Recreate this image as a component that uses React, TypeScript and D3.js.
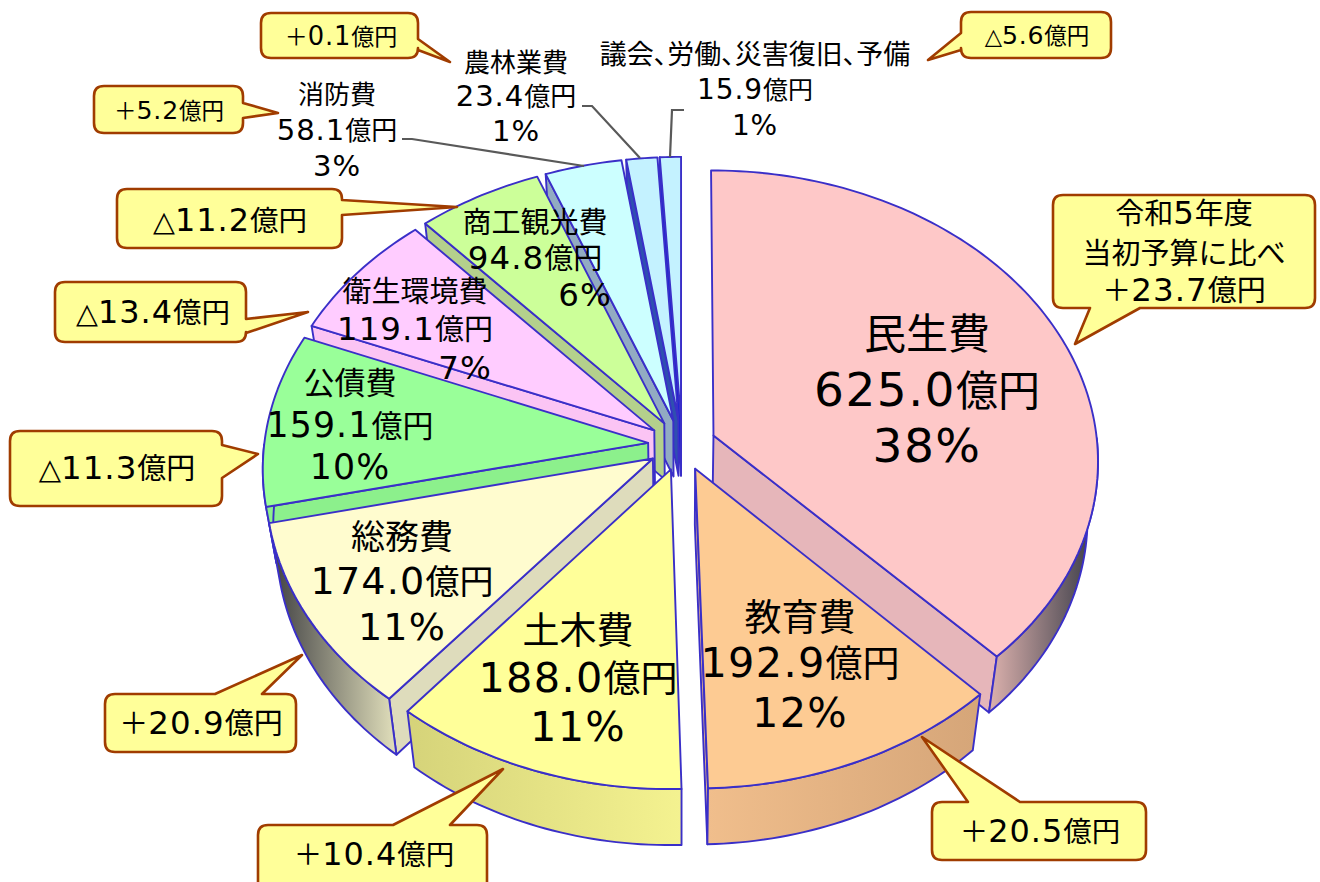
import React from "react";
import * as d3 from "d3";

const categories = ["民生費","教育費","土木費","総務費","公債費","衛生環境費","商工観光費","消防費","農林業費","議会、労働、災害復旧、予備"];
const values = [625.0,192.9,188.0,174.0,159.1,119.1,94.8,58.1,23.4,15.9];
const percents = ["38%","12%","11%","11%","10%","7%","6%","3%","1%","1%"];
const topColors = ["#FEC8C8","#FDCB93","#FFFF99","#FFFCCF","#99FF99","#FFCCFF","#CCFF99","#CCFFFF","#C4F2FF","#C4F2FF"];
const cutColors = ["#E6B6BA","#E8B98A","#E8E68C","#DEDCBC","#8CF08C","#FBC4F4","#B4D08C","#92ABC2","#2F4FB0","#1020D8"];
const wallLight = ["#DDB2AE","#F0BE8C","#F4F290","#E2E0BC","#8CF08C","#FBC4F4","#B4D08C","#92ABC2","#2F4FB0","#1020D8"];
const wallDark = ["#45444E","#D6A679","#D6D47A","#4A4A4A","#8CF08C","#FBC4F4","#B4D08C","#92ABC2","#2F4FB0","#1020D8"];
const changeTexts = [["令和5年度","当初予算に比べ","＋23.7億円"],["＋20.5億円"],["＋10.4億円"],["＋20.9億円"],["△11.3億円"],["△13.4億円"],["△11.2億円"],["＋5.2億円"],["＋0.1億円"],["△5.6億円"]];

// layout (not data)
const FONT = '"DejaVu Sans","Noto Sans CJK JP",sans-serif';
const CX = 682, CY = 445, R = 384, K = 0.752, D = 4600, EXPLODE = 34, WALL = 56, SHRINK = 0.975;
const labelLayout = [
  { x: 927, ys: [333, 390, 446], size: 42, first: 42, xs: [0, 0, 0] },
  { x: 800, ys: [617, 663, 713], size: 37, first: 37, xs: [0, 0, 0] },
  { x: 578, ys: [630, 678, 727], size: 37, first: 37, xs: [0, 0, 0] },
  { x: 402, ys: [536, 581, 627], size: 34, first: 34, xs: [0, 0, 0] },
  { x: 350, ys: [382, 425, 467], size: 31, first: 31, xs: [0, 0, 0] },
  { x: 415, ys: [291, 329, 368], size: 29, first: 29, xs: [0, 0, 50] },
  { x: 535, ys: [222, 258, 295], size: 29, first: 29, xs: [0, 0, 50] },
  { x: 337, ys: [94, 130, 166], size: 26, first: 26, xs: [0, 0, 0] },
  { x: 516, ys: [62, 96, 131], size: 26, first: 26, xs: [0, 0, 0] },
  { x: 755, ys: [54, 89, 125], size: 25, first: 27, xs: [0, 0, 0] },
];
type Call = { r: number[]; side: string; b: number[]; tip: number[]; tx: number; tys: number[]; size: number };
const calloutLayout: Call[] = [
  { r: [1053,195,1315,308], side: "b", b: [1090,1140], tip: [1075,344], tx: 1184, tys: [213,253,290], size: 29 },
  { r: [932,802,1146,860], side: "t", b: [968,1020], tip: [922,737], tx: 1040, tys: [831], size: 28.5 },
  { r: [258,825,487,900], side: "t", b: [393,450], tip: [503,769], tx: 374, tys: [854], size: 28.5 },
  { r: [105,694,296,752], side: "t", b: [215,262], tip: [302,655], tx: 201, tys: [723], size: 29 },
  { r: [10,431,222,506], side: "r", b: [445,478], tip: [258,454], tx: 117, tys: [468], size: 29 },
  { r: [55,282,246,342], side: "r", b: [319,333], tip: [308,312], tx: 153, tys: [312], size: 28.5 },
  { r: [117,189,342,248], side: "r", b: [200,215], tip: [457,207], tx: 230, tys: [220], size: 28.5 },
  { r: [94,86,243,133], side: "r", b: [103,118], tip: [278,113], tx: 169, tys: [110], size: 22.5 },
  { r: [261,13,418,58], side: "r", b: [39,50], tip: [450,62], tx: 341, tys: [36], size: 23 },
  { r: [961,12,1111,58], side: "l", b: [33,50], tip: [928,60], tx: 1037, tys: [35], size: 22.5 },
];
const leaders = [
  [[402,139],[412,139],[584,166]],
  [[582,106],[592,106],[640,158]],
  [[684,110],[672,110],[670,157]],
];

function project(X: number, Y: number): [number, number] {
  const f = 1 / (1 - Y / D);
  return [CX + X * f, CY + Y * K * f];
}
const lower = (p: [number, number]): [number, number] => [CX + (p[0] - CX) * SHRINK, p[1] + WALL];
const line = d3.line<[number, number]>().x(d => d[0]).y(d => d[1]);

const arcs = d3.pie<number>().sort(null).value(d => d)(values);

const slices = arcs.map((a, i) => {
  const mid = (a.startAngle + a.endAngle) / 2;
  const ox = EXPLODE * Math.sin(mid), oy = -EXPLODE * Math.cos(mid);
  const at = (t: number) => project(ox + R * Math.sin(t), oy - R * Math.cos(t));
  const steps = Math.max(4, Math.ceil((a.endAngle - a.startAngle) / 0.02));
  const ang = d3.scaleLinear().domain([0, steps]).range([a.startAngle, a.endAngle]);
  const rim = d3.range(steps + 1).map(s => at(ang(s)));
  const apex = project(ox, oy);
  const frontRim = rim.filter((_, s) => Math.cos(ang(s)) < 0);
  const front = frontRim.map(lower);
  const fx = front.length ? (d3.extent(front, p => p[0]) as [number, number]) : [0, 1];
  return {
    i, mid, apex, rim, frontRim, fx,
    showStart: Math.sin(a.startAngle) < 0,
    showEnd: Math.sin(a.endAngle) > 0,
    depth: project(ox + R * 0.6 * Math.sin(mid), oy - R * 0.6 * Math.cos(mid))[1],
  };
});
const order = [...slices].sort((p, q) => p.depth - q.depth);

function Runs({ s, size }: { s: string; size: number }) {
  const parts = s.match(/[0-9.%]+|[^0-9.%]+/g) || [];
  return (
    <>
      {parts.map((t, k) => {
        const num = /^[0-9.%]/.test(t);
        return (
          <tspan key={k} fontSize={num ? size * 1.12 : size} letterSpacing={num ? size * 0.035 : 0}>
            {t}
          </tspan>
        );
      })}
    </>
  );
}

function calloutPath(c: Call) {
  const [x0, y0, x1, y1] = c.r, q = 10;
  const p = d3.path();
  p.moveTo(x0 + q, y0);
  if (c.side === "t") { p.lineTo(c.b[0], y0); p.lineTo(c.tip[0], c.tip[1]); p.lineTo(c.b[1], y0); }
  p.lineTo(x1 - q, y0);
  p.quadraticCurveTo(x1, y0, x1, y0 + q);
  if (c.side === "r") { p.lineTo(x1, c.b[0]); p.lineTo(c.tip[0], c.tip[1]); p.lineTo(x1, c.b[1]); }
  p.lineTo(x1, y1 - q);
  p.quadraticCurveTo(x1, y1, x1 - q, y1);
  if (c.side === "b") { p.lineTo(c.b[1], y1); p.lineTo(c.tip[0], c.tip[1]); p.lineTo(c.b[0], y1); }
  p.lineTo(x0 + q, y1);
  p.quadraticCurveTo(x0, y1, x0, y1 - q);
  if (c.side === "l") { p.lineTo(x0, c.b[1]); p.lineTo(c.tip[0], c.tip[1]); p.lineTo(x0, c.b[0]); }
  p.lineTo(x0, y0 + q);
  p.quadraticCurveTo(x0, y0, x0 + q, y0);
  p.closePath();
  return p.toString();
}

const EDGE = "#3A2FC8";

export default function App() {
  return (
    <svg width={1320} height={882} viewBox="0 0 1320 882" style={{ position: "absolute", left: 0, top: 0, background: "#fff" }} fontFamily={FONT}>
      <defs>
        {slices.map(s => {
          const darkRight = Math.sin(s.mid) > 0;
          return (
            <linearGradient key={s.i} id={`w${s.i}`} gradientUnits="userSpaceOnUse" x1={s.fx[0]} x2={s.fx[1]} y1={0} y2={0}>
              <stop offset="0" stopColor={darkRight ? wallLight[s.i] : wallDark[s.i]} />
              <stop offset="1" stopColor={darkRight ? wallDark[s.i] : wallLight[s.i]} />
            </linearGradient>
          );
        })}
      </defs>
      {order.map(s => {
        const first = s.rim[0], last = s.rim[s.rim.length - 1];
        const cutA: [number, number][] = [s.apex, first, lower(first), lower(s.apex)];
        const cutB: [number, number][] = [s.apex, last, lower(last), lower(s.apex)];
        const outer = [...s.frontRim, ...s.frontRim.map(lower).reverse()];
        const top = [s.apex, ...s.rim];
        return (
          <g key={s.i} stroke={EDGE} strokeWidth={1.9} strokeLinejoin="round">
            {s.showStart && <path d={line(cutA)! + "Z"} fill={cutColors[s.i]} />}
            {s.showEnd && <path d={line(cutB)! + "Z"} fill={cutColors[s.i]} />}
            {outer.length > 0 && <path d={line(outer)! + "Z"} fill={`url(#w${s.i})`} />}
            <path d={line(top)! + "Z"} fill={topColors[s.i]} />
          </g>
        );
      })}
      {leaders.map((l, i) => (
        <path key={i} d={line(l as [number, number][])!} fill="none" stroke="#595959" strokeWidth={2.2} />
      ))}
      {categories.map((c, i) => {
        const L = labelLayout[i];
        const lines = [c, `${values[i].toFixed(1)}億円`, percents[i]];
        return lines.map((t, k) => (
          <text key={`${i}-${k}`} x={L.x + L.xs[k]} y={L.ys[k] + L.size * 0.38} textAnchor="middle" fill="#000"
            style={i === 9 && k === 0 ? { fontFeatureSettings: '"palt"' } : undefined}>
            <Runs s={t} size={k === 0 ? L.first : L.size} />
          </text>
        ));
      })}
      {calloutLayout.map((c, i) => (
        <g key={i}>
          <path d={calloutPath(c)} fill="#FFFF99" stroke="#A03C00" strokeWidth={2.6} strokeLinejoin="round" />
          {changeTexts[i].map((t, k) => (
            <text key={k} x={c.tx} y={c.tys[k] + c.size * 0.38} textAnchor="middle" fill="#000">
              <Runs s={t} size={c.size} />
            </text>
          ))}
        </g>
      ))}
    </svg>
  );
}
